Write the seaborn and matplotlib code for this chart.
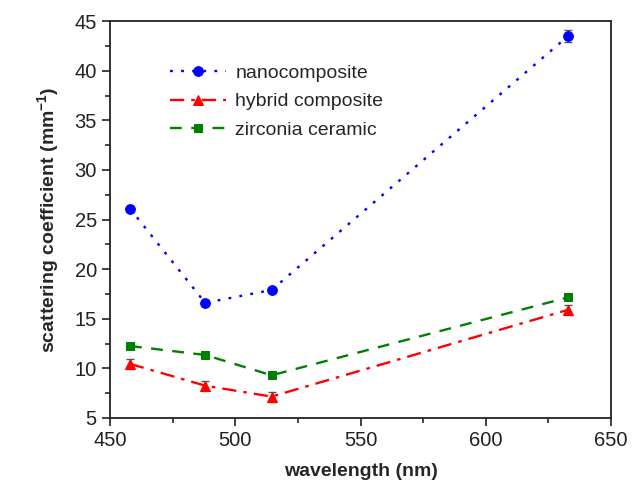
import numpy as np
import pandas as pd
import matplotlib
matplotlib.use("Agg")
import matplotlib.pyplot as plt
import seaborn as sns
from matplotlib.ticker import MultipleLocator

wavelength = [458, 488, 514.5, 632.8]
nano = [26.1, 16.6, 17.9, 43.5]
hybrid = [10.45, 8.25, 7.15, 15.9]
zirconia = [12.25, 11.35, 9.3, 17.15]
nano_err = [0.2, 0.2, 0.2, 0.6]
hybrid_err = [0.5, 0.5, 0.5, 0.5]
zirconia_err = [0.2, 0.2, 0.2, 0.2]
labels = ["nanocomposite", "hybrid composite", "zirconia ceramic"]

sns.set_theme(style="ticks")
plt.rcParams['font.family'] = ['Liberation Sans', 'DejaVu Sans']
plt.rcParams['mathtext.default'] = 'regular'

fig = plt.figure(figsize=(6.32, 4.94), dpi=100)
ax = fig.add_axes([0.174, 0.154, 0.793, 0.803])

series = [
    (nano, nano_err, labels[0], "#0000ff", (0, (1.2, 3.5)), "o", 7),
    (hybrid, hybrid_err, labels[1], "#ff0000", (0, (6, 3, 1.5, 3)), "^", 7),
    (zirconia, zirconia_err, labels[2], "#008000", (0, (5, 4)), "s", 6),
]

for vals, errs, lab, col, ls, mk, ms in series:
    df = pd.DataFrame({"wavelength": wavelength, "value": vals})
    ax.errorbar(wavelength, vals, yerr=errs, fmt="none", ecolor="#555555",
                elinewidth=1, capsize=3, capthick=1, zorder=2)
    sns.lineplot(data=df, x="wavelength", y="value", ax=ax, color=col,
                 linestyle=ls, linewidth=1.7, marker=mk, markersize=ms,
                 markeredgecolor=col, label=lab, zorder=3)

ax.set_xlim(450, 650)
ax.set_ylim(5, 45)
ax.xaxis.set_major_locator(MultipleLocator(50))
ax.xaxis.set_minor_locator(MultipleLocator(25))
ax.yaxis.set_major_locator(MultipleLocator(5))
ax.yaxis.set_minor_locator(MultipleLocator(2.5))
ax.tick_params(axis="both", which="major", direction="out", length=6, width=1.2,
               labelsize=14.5, colors="#222222", top=False, right=False)
ax.tick_params(axis="both", which="minor", direction="out", length=3.5, width=1.2,
               top=False, right=False)
for s in ax.spines.values():
    s.set_linewidth(1.3)
    s.set_color("#222222")

ax.set_xlabel("wavelength (nm)", fontsize=14, fontweight="bold", labelpad=9)
ax.set_ylabel("scattering coefficient (mm$^{-1}$)", fontsize=14,
              fontweight="bold", labelpad=10)

leg = ax.legend(loc="upper left", bbox_to_anchor=(0.085, 0.935), frameon=False,
                fontsize=14, handlelength=2.9, handletextpad=0.45,
                labelspacing=0.55)

fig.savefig("out.png", dpi=100)
